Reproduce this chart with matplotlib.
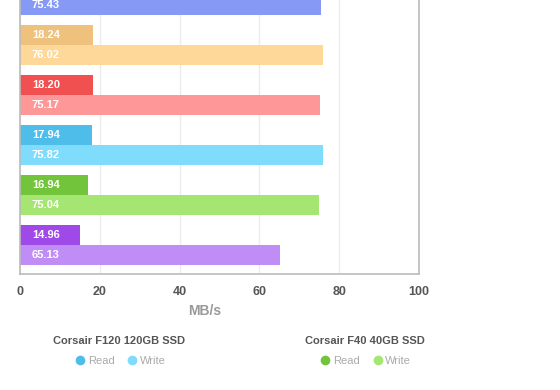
import numpy as np
import matplotlib
matplotlib.use('Agg')
import matplotlib.pyplot as plt
from matplotlib.lines import Line2D

plt.rcParams['font.family'] = ['Liberation Sans', 'DejaVu Sans']

# data (top group is cut off, its read bar is not visible)
read_vals = [np.nan, 18.24, 18.20, 17.94, 16.94, 14.96]
write_vals = [75.43, 76.02, 75.17, 75.82, 75.04, 65.13]
read_colors = ['#7388f0', '#eec27c', '#f05050', '#4fbde9', '#72c43a', '#9f4ae8']
write_colors = ['#8599f5', '#fed899', '#fe9898', '#7fdcfd', '#a5e673', '#c08cf5']
xticks = [0, 20, 40, 60, 80, 100]
legend_titles = ['Corsair F120 120GB SSD', 'Corsair F40 40GB SSD']
legend_groups = [3, 4]

fig = plt.figure(figsize=(5.6, 3.9), dpi=100)
ax = fig.add_axes([20 / 560, 1 - 274 / 390, 399 / 560, 274 / 390])

pos = np.arange(len(write_vals))
h = 0.4
for i in pos:
    if not np.isnan(read_vals[i]):
        ax.barh(i - h / 2, read_vals[i], height=h, color=read_colors[i], zorder=2)
        ax.annotate(f'{read_vals[i]:.2f}', (0, i - h / 2), xytext=(8.5, 0),
                    textcoords='offset points', va='center', ha='left',
                    color='white', fontsize=8, fontweight='bold', zorder=3)
    ax.barh(i + h / 2, write_vals[i], height=h, color=write_colors[i], zorder=2)
    ax.annotate(f'{write_vals[i]:.2f}', (0, i + h / 2), xytext=(8.5, 0),
                textcoords='offset points', va='center', ha='left',
                color='white', fontsize=8, fontweight='bold', zorder=3)

ax.set_xlim(0, 100)
ax.set_ylim(5.58, 0.1)
ax.set_xticks(xticks)
ax.set_yticks([])
ax.grid(axis='x', color='#ebebeb', linewidth=1, zorder=0)
ax.tick_params(axis='x', length=0, pad=8.5, labelsize=9, labelcolor='#555555')
for lab in ax.get_xticklabels():
    lab.set_fontweight('bold')
for s in ['left', 'bottom', 'right']:
    ax.spines[s].set_color('#bbbbbb')
    ax.spines[s].set_linewidth(1.2)
ax.spines['top'].set_visible(False)

fig.text(205 / 560, 1 - 311 / 390, 'MB/s', ha='center', va='center',
         fontsize=10, fontweight='bold', color='#999999')

# legends, one per drive
centers = [119.5, 365]
for title, g, cx in zip(legend_titles, legend_groups, centers):
    fig.text(cx / 560, 1 - 341 / 390, title, ha='center', va='center',
             fontsize=8, fontweight='bold', color='#555555')
    handles = [Line2D([], [], marker='o', linestyle='', markersize=7,
                      markerfacecolor=read_colors[g], markeredgecolor='none'),
               Line2D([], [], marker='o', linestyle='', markersize=7,
                      markerfacecolor=write_colors[g], markeredgecolor='none')]
    leg = fig.legend(handles, ['Read', 'Write'], loc='center',
                     bbox_to_anchor=(cx / 560, 1 - 361 / 390), ncol=2,
                     frameon=False, fontsize=8, handletextpad=0.1,
                     columnspacing=1.0, handlelength=1.2, labelcolor='#aaaaaa')

fig.savefig('out.png', dpi=100)
